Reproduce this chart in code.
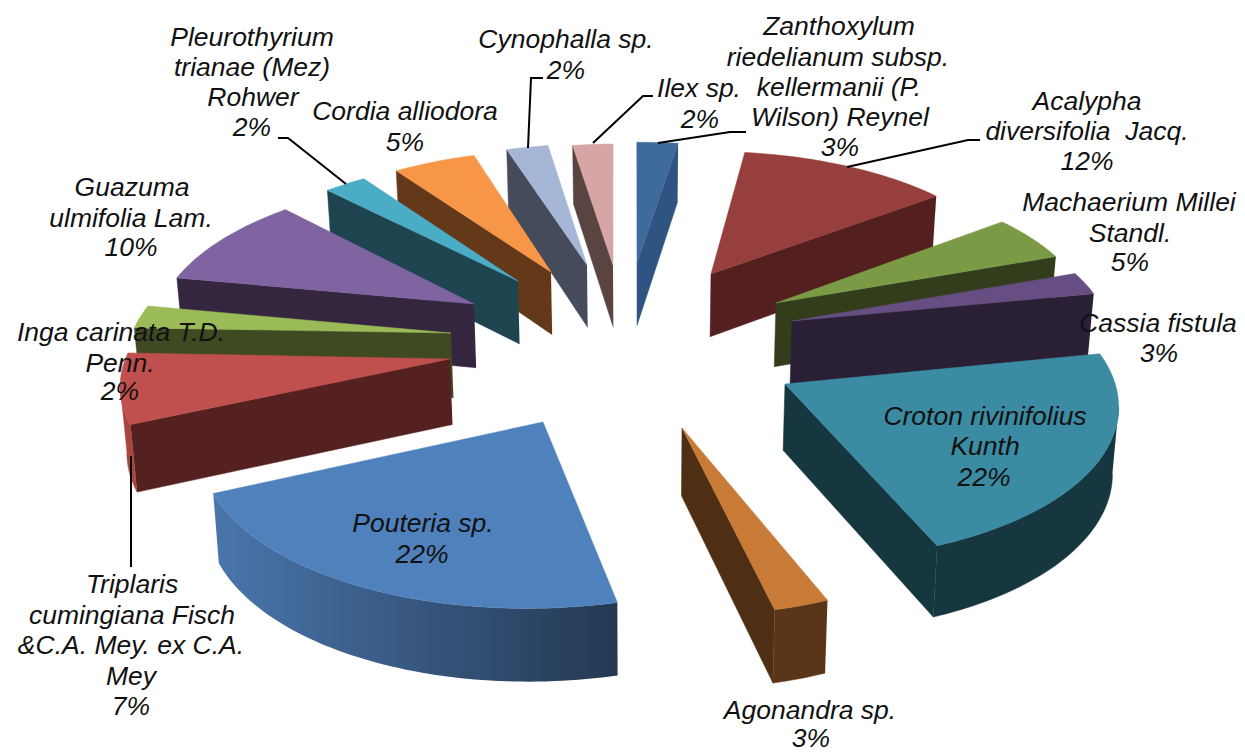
import numpy as np, pandas as pd, altair as alt

species = ["Zanthoxylum riedelianum", "Acalypha diversifolia", "Machaerium Millei", "Cassia fistula",
           "Croton rivinifolius", "Agonandra sp.", "Pouteria sp.", "Triplaris cumingiana", "Inga carinata",
           "Guazuma ulmifolia", "Pleurothyrium trianae", "Cordia alliodora", "Cynophalla sp.", "Ilex sp."]
values = [3, 12, 5, 3, 22, 3, 22, 7, 2, 10, 2, 5, 2, 2]
top_colors = ["#3F6A9C", "#963F3D", "#7B9A45", "#664E82", "#3B8BA3", "#C87B37", "#4F81BD",
              "#C0504D", "#9BBB59", "#8064A2", "#4BACC6", "#F79646", "#A6B6D6", "#D6A5A5"]
wall_colors = ["#2F5482", "#54201F", "#333D1B", "#2A2035", "#163740", "#4F2F14", "#2A4364",
               "#552120", "#3F4A22", "#35263F", "#1E4450", "#63391A", "#454B5A", "#5A4442"]
outer_left = ["#2F5482", "#54201F", "#333D1B", "#2A2035", "#163740", "#5A3517", "#4A76AC",
              "#A8453F", "#3F4A22", "#35263F", "#1E4450", "#63391A", "#454B5A", "#5A4442"]
outer_right = ["#2F5482", "#54201F", "#333D1B", "#2A2035", "#163740", "#5A3517", "#243852",
               "#A8453F", "#3F4A22", "#35263F", "#1E4450", "#63391A", "#454B5A", "#5A4442"]
# view of the tilted pie, how far each slice is pulled out, small drawing skew of its edges (degrees)
view = [325.56363, 47.23608, 627.14743, -8.06718, -112.79465, 344.21201, 0.00759, 0.10439]
pull_x = [0.0652, 0.3019, 0.4921, 0.5293, 0.4620, 0.1307, -0.2758, -0.5498, -0.5469, -0.4735, -0.3294, -0.2201, -0.1001, -0.0146]
pull_y = [0.5744, 0.4749, 0.2500, 0.1207, -0.2934, -0.5415, -0.4761, -0.0589, 0.1152, 0.3122, 0.4684, 0.5272, 0.5711, 0.5650]
skew_start = [3.4, 1.0, 2.3, 2.2, 0.0, -0.3, -2.4, -2.2, -1.1, 0.6, -0.8, 1.0, 0.1, 1.8]
skew_end = [1.2, 2.3, 2.1, 0.2, -0.3, -2.6, -2.2, -0.8, 0.5, -0.3, 0.8, 0.2, 1.6, 3.0]
thickness = 65

label_text = ["Zanthoxylum", "riedelianum subsp.", "kellermanii (P.", "Wilson) Reynel", "3%",
              "Acalypha", "diversifolia \u00a0Jacq.", "12%",
              "Machaerium Millei", "Standl.", "5%",
              "Cassia fistula", "3%",
              "Croton rivinifolius", "Kunth", "22%",
              "Agonandra sp.", "3%",
              "Pouteria sp.", "22%",
              "Triplaris", "cumingiana Fisch", "&C.A. Mey. ex C.A.", "Mey", "7%",
              "Inga carinata T.D.", "Penn.", "2%",
              "Guazuma", "ulmifolia Lam.", "10%",
              "Pleurothyrium", "trianae (Mez)", "Rohwer", "2%",
              "Cordia alliodora", "5%",
              "Cynophalla sp.", "2%",
              "Ilex sp.", "2%"]
label_x = [839, 838, 839, 840, 840, 1087, 1087, 1087, 1129, 1130, 1130, 1158, 1159, 985, 985, 984, 810, 811, 423, 422,
           132, 132, 131, 131, 131, 121, 120, 120, 132, 131, 131, 252, 252, 253, 252, 405, 405, 566, 566, 699, 700]
label_y = [27, 58, 88, 118, 148, 102, 132, 162, 203, 234, 263, 324, 354, 417, 447, 478, 711, 739, 524, 555,
           585, 616, 646, 677, 707, 333, 364, 392, 188, 219, 248, 38, 68, 98, 128, 112, 143, 40, 71, 89, 120]

leader_id = [0, 0, 0, 1, 1, 1, 2, 2, 2, 3, 3, 3, 4, 4, 4, 5, 5]
leader_x = [658, 730, 746, 593, 643, 653, 528, 531, 543, 346, 288, 278, 847, 968, 980, 131, 131]
leader_y = [143, 132, 132, 143, 96, 96, 148, 78, 78, 184, 138, 138, 167, 140, 140, 456, 567]

xs = alt.X("x:Q", scale=alt.Scale(domain=[8, 1237]), axis=None)
ys = alt.Y("y:Q", scale=alt.Scale(domain=[754, 8]), axis=None)

a, b, c0, d, e, f, g, h = view
edges = np.cumsum([0] + values) * 3.6

def project(X, Y):
    w = g * X + h * Y + 1
    return (a * X + b * Y + c0) / w, (d * X + e * Y + f) / w, w

def down(px, py, w):
    return px - 0.013 * (px - 640), py + thickness / w ** 0.7

def poly(xy, fill):
    df = pd.DataFrame({"x": [p[0] for p in xy], "y": [p[1] for p in xy], "i": range(len(xy))})
    flat = isinstance(fill, str)
    return alt.Chart(df).mark_line(fill=fill, stroke=fill if flat else "#304c70",
                                   strokeWidth=0.5 if flat else 0).encode(x=xs, y=ys, order="i:Q")

layers = []
slices = []
for i in range(len(values)):
    n = max(int(values[i] * 3), 4)
    t = np.radians(np.linspace(edges[i] + skew_start[i], edges[i + 1] + skew_end[i], n))
    apex = project(pull_x[i], pull_y[i])
    arc = [project(pull_x[i] + np.sin(v), pull_y[i] + np.cos(v)) for v in t]
    slices.append((apex[1], i, apex, arc))

for _, i, apex, arc in sorted(slices, key=lambda s: s[0]):
    ring = [apex] + arc + [apex]
    for P, Q in [(ring[0], ring[1]), (ring[-2], ring[-1])]:
        if Q[0] < P[0] - 0.5:
            layers.append(poly([P[:2], Q[:2], down(*Q), down(*P)], wall_colors[i]))
    runs, run = [], []
    for P, Q in zip(arc[:-1], arc[1:]):
        if Q[0] < P[0]:
            run = run or [P]
            run.append(Q)
        elif run:
            runs.append(run)
            run = []
    if run:
        runs.append(run)
    for run in runs:
        pts = [p[:2] for p in run] + [down(*p) for p in reversed(run)]
        if outer_left[i] == outer_right[i]:
            layers.append(poly(pts, outer_left[i]))
        else:
            layers.append(poly(pts, alt.Gradient(gradient="linear", x1=0, x2=1, y1=0, y2=0, stops=[
                alt.GradientStop(color=outer_left[i], offset=0), alt.GradientStop(color=outer_right[i], offset=1)])))
    layers.append(poly([p[:2] for p in ring], top_colors[i]))

leaders = pd.DataFrame({"id": leader_id, "x": leader_x, "y": leader_y, "i": range(len(leader_x))})
layers.append(alt.Chart(leaders).mark_line(color="black", strokeWidth=2).encode(x=xs, y=ys, detail="id:N", order="i:Q"))
labels = pd.DataFrame({"t": label_text, "x": label_x, "y": label_y})
layers.append(alt.Chart(labels).mark_text(font="Liberation Sans", fontStyle="italic", fontSize=26.5, color="#111111",
                                          align="center", baseline="middle").encode(x=xs, y=ys, text="t:N"))

chart = alt.layer(*layers).properties(width=1229, height=746, padding=0, autosize="none").configure_view(stroke=None)
chart.save("out.html", embed_options={"renderer": "svg", "actions": False})
